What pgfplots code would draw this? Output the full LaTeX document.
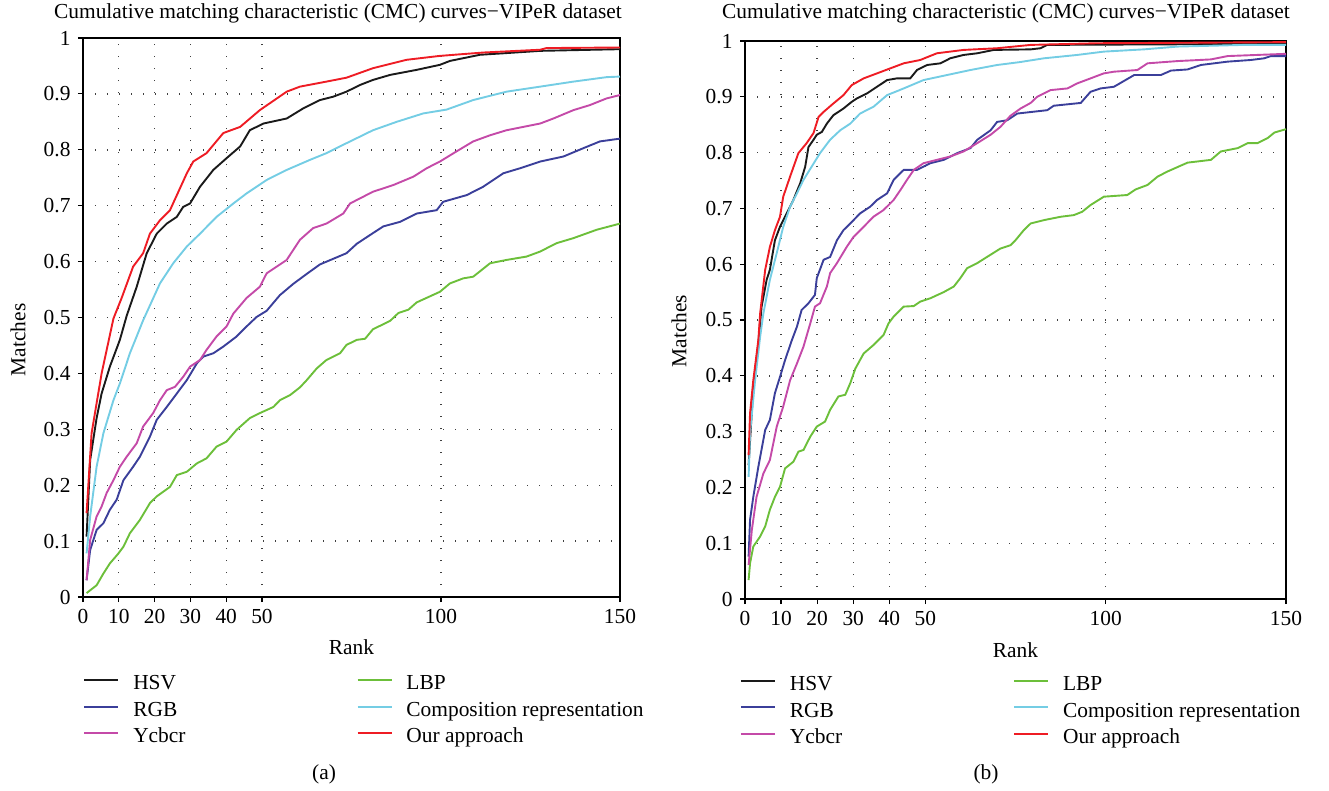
\documentclass[border=0pt]{standalone}
\usepackage{fontspec}
\setmainfont{Liberation Serif}
\usepackage{pgfplots}
\pgfplotsset{compat=1.18}

\definecolor{chsv}{HTML}{1A1A1A}
\definecolor{crgb}{HTML}{3B3F9A}
\definecolor{cycc}{HTML}{C44AA8}
\definecolor{clbp}{HTML}{6CBF3A}
\definecolor{ccmp}{HTML}{74CDE4}
\definecolor{cour}{HTML}{EE1C24}

\pgfplotsset{
  cmc/.style={
    scale only axis,
    xmin=0, xmax=150, ymin=0, ymax=1,
    xtick={0,10,20,30,40,50,100,150},
    ytick={0,0.1,0.2,0.3,0.4,0.5,0.6,0.7,0.8,0.9,1},
    xtick pos=left, ytick pos=left,
    tick align=outside, major tick length=2.5pt,
    tick style={black, line width=0.6pt},
    grid=major,
    major grid style={black!75, line width=0.7pt, dash pattern=on 0.7pt off 5.3pt},
    axis line style={line width=0.8pt},
    /pgf/number format/assume math mode=true,
    xlabel=Rank, ylabel=Matches,
    legend columns=2,
    legend cell align=left,
    legend style={draw=none, fill=none, inner sep=0pt,
      nodes={inner xsep=0pt, inner ysep=1pt, text height=7pt, text depth=2.2pt},
      row sep=2pt,
      /tikz/every odd column/.append style={column sep=7pt},
      /tikz/every even column/.append style={column sep=85.5pt}},
    legend image code/.code={\draw[#1] (0pt,2.5pt) -- (17pt,2.5pt);},
    every axis plot/.append style={line width=0.95pt},
  }
}

\begin{document}
\fontsize{10.7pt}{13pt}\selectfont
\begin{tikzpicture}
\useasboundingbox (0,0) rectangle (664.5pt,-395.5pt);

% ---------- (a) ----------
\begin{axis}[cmc,
  width=268.5pt, height=279.5pt,
  at={(41.5pt,-298.5pt)}, anchor=south west,
  xlabel style={at={(axis description cs:0.5,-0.09)}, anchor=center},
  ylabel style={at={(axis description cs:-0.121,0.46)}, anchor=center},
  legend style={at={(axis description cs:0,-0.137)}, anchor=north west},
]
\addplot[chsv] coordinates {
(1,0.108) (2,0.245) (3.8,0.32) (5.2,0.364) (7.5,0.412) (10.3,0.46) (12.2,0.503)
(15,0.555) (17.8,0.615) (20.6,0.65) (23.4,0.668) (26.2,0.68) (28,0.698) (29.9,0.704)
(32.7,0.734) (36.4,0.764) (40.1,0.785) (43.9,0.806) (46.6,0.835) (50.4,0.847)
(56.9,0.856) (61.5,0.874) (66.2,0.889) (69.9,0.895) (73.6,0.904) (77.4,0.916)
(81,0.925) (85.8,0.934) (93.2,0.943) (99.7,0.952) (102.5,0.959) (110.9,0.97)
(118.3,0.973) (127.7,0.977) (150,0.98)};
\addlegendentry{HSV}
\addplot[clbp] coordinates {
(1,0.007) (3.8,0.021) (5.7,0.042) (7.5,0.06) (9.9,0.078) (11.3,0.09) (13.1,0.114)
(15.9,0.138) (18.7,0.168) (20.6,0.18) (24.3,0.197) (26.2,0.218) (29,0.224)
(31.8,0.239) (34.5,0.248) (37.3,0.269) (40.1,0.278) (42.9,0.299) (46.6,0.32)
(49.4,0.329) (53.2,0.34) (55,0.352) (57.8,0.361) (60.6,0.375) (62.5,0.388)
(65.3,0.409) (68,0.424) (71.8,0.436) (73.6,0.451) (76.5,0.46) (78.8,0.462)
(81,0.479) (85.8,0.494) (88.1,0.508) (90.9,0.514) (93.2,0.527) (99.7,0.546)
(102.5,0.561) (106.2,0.57) (109,0.573) (113.7,0.597) (118.3,0.603) (123.9,0.609)
(127.7,0.618) (132.3,0.633) (137,0.642) (143.5,0.657) (150,0.668)};
\addlegendentry{LBP}
\addplot[crgb] coordinates {
(1,0.03) (2,0.084) (3.8,0.12) (5.7,0.132) (7.5,0.156) (9.4,0.174) (11.3,0.209)
(14,0.233) (15.9,0.251) (18.7,0.287) (20.6,0.317) (23.4,0.34) (26.2,0.364)
(29,0.388) (31.8,0.418) (33.6,0.43) (36.4,0.436) (39.2,0.448) (42.9,0.466)
(45.7,0.484) (48.5,0.501) (51.3,0.512) (55,0.54) (58.7,0.56) (62.5,0.578)
(66.2,0.595) (69.9,0.605) (73.6,0.615) (76.5,0.632) (81,0.651) (83.9,0.663)
(88.5,0.671) (93.2,0.686) (98.8,0.692) (100.6,0.707) (107.2,0.719) (111.8,0.734)
(117.4,0.758) (122.1,0.767) (127.7,0.779) (134.2,0.788) (139.8,0.803)
(144.4,0.815) (150,0.82)};
\addlegendentry{RGB}
\addplot[ccmp] coordinates {
(1,0.078) (2,0.144) (3.8,0.233) (5.7,0.293) (8.5,0.352) (10.3,0.382) (13.1,0.436)
(16.8,0.495) (21.5,0.561) (25.2,0.597) (29,0.627) (32.7,0.65) (37.3,0.68)
(42,0.704) (45.7,0.722) (51.3,0.746) (56.9,0.764) (63.4,0.782) (68,0.794)
(72.7,0.809) (81,0.835) (87.6,0.85) (95,0.865) (101.6,0.872) (109,0.889)
(118.3,0.904) (127.7,0.913) (137,0.922) (146.3,0.93) (150,0.931)};
\addlegendentry{Composition representation}
\addplot[cycc] coordinates {
(1,0.03) (2,0.102) (3.8,0.144) (5.2,0.162) (6.6,0.186) (8.5,0.209) (10.3,0.233)
(12.2,0.251) (15,0.275) (16.8,0.305) (19.6,0.329) (21.5,0.352) (23.4,0.37)
(25.7,0.376) (28,0.394) (29.9,0.412) (32.7,0.424) (34.5,0.442) (37.3,0.466)
(40.1,0.484) (42,0.507) (45.7,0.535) (49.4,0.555) (51.3,0.579) (56.9,0.603)
(60.6,0.639) (64.3,0.66) (68,0.668) (72.7,0.686) (74.6,0.704) (81,0.725)
(86.7,0.737) (92.3,0.752) (96,0.767) (99.7,0.779) (104.3,0.797) (109,0.815)
(113.7,0.826) (118.3,0.835) (123,0.841) (127.7,0.847) (131.4,0.856) (137,0.871)
(141.6,0.88) (146.3,0.892) (150,0.898)};
\addlegendentry{Ycbcr}
\addplot[cour] coordinates {
(1,0.15) (2.4,0.293) (5.2,0.40) (8.5,0.498) (10.8,0.535) (14,0.591) (16.8,0.615)
(18.7,0.65) (21.5,0.674) (24.3,0.692) (29,0.758) (30.8,0.779) (34.5,0.794)
(39.2,0.83) (43.9,0.841) (49.4,0.871) (56.9,0.904) (60.6,0.913) (68,0.922)
(73.6,0.929) (81,0.946) (90.4,0.961) (99.7,0.968) (111.8,0.974) (127.7,0.979)
(129.5,0.982) (150,0.983)};
\addlegendentry{Our approach}
\end{axis}

% ---------- (b) ----------
\begin{axis}[cmc,
  width=270.5pt, height=279pt,
  at={(372.5pt,-299.5pt)}, anchor=south west,
  xlabel style={at={(axis description cs:0.5,-0.091)}, anchor=center},
  ylabel style={at={(axis description cs:-0.122,0.48)}, anchor=center},
  legend style={at={(axis description cs:-0.01,-0.135)}, anchor=north west},
]
\addplot[chsv] coordinates {
(1,0.24) (2.3,0.38) (3.7,0.458) (4.6,0.524) (6,0.572) (6.9,0.59) (8.3,0.643)
(9.7,0.667) (11.1,0.685) (13.4,0.715) (15.3,0.745) (16.7,0.775) (17.6,0.81)
(19,0.823) (19.9,0.832) (21.3,0.837) (22.7,0.852) (24.5,0.867) (27.3,0.879)
(29.6,0.891) (31,0.897) (33.8,0.906) (36.6,0.918) (39.4,0.93) (42.1,0.933)
(45.8,0.933) (47.7,0.948) (50.5,0.957) (54.2,0.96) (56.9,0.969) (60.6,0.975)
(64.4,0.978) (69,0.984) (79.2,0.985) (81.9,0.987) (83.8,0.993) (150,0.995)};
\addlegendentry{HSV}
\addplot[clbp] coordinates {
(1,0.034) (1.4,0.064) (2.3,0.094) (4.2,0.112) (5.6,0.13) (6.9,0.16) (8.3,0.183)
(9.7,0.201) (11.1,0.234) (13.4,0.246) (14.8,0.264) (16.2,0.267) (18.1,0.291)
(19.9,0.309) (22.2,0.318) (23.6,0.339) (25.9,0.363) (27.8,0.366) (29.2,0.387)
(30.6,0.413) (32.9,0.44) (35.6,0.455) (38.4,0.473) (39.8,0.494) (41.2,0.506)
(42.1,0.512) (44,0.524) (46.8,0.525) (48.6,0.533) (51.4,0.539) (55.1,0.55)
(57.9,0.56) (59.7,0.575) (61.6,0.593) (64.4,0.602) (67.1,0.613) (70.8,0.628)
(73.6,0.634) (75,0.643) (77.3,0.661) (79.2,0.673) (82.9,0.679) (87.5,0.685)
(91.2,0.688) (93.5,0.694) (95.8,0.706) (99.5,0.721) (106,0.724) (108.3,0.734)
(111.6,0.742) (114.4,0.757) (117.1,0.766) (119.9,0.774) (122.7,0.782)
(129.2,0.787) (131.9,0.802) (136.6,0.808) (139.4,0.817) (142.1,0.817)
(144.9,0.826) (146.8,0.836) (150,0.842)};
\addlegendentry{LBP}
\addplot[crgb] coordinates {
(1,0.076) (1.4,0.142) (2.3,0.183) (3.7,0.237) (5.6,0.303) (6.9,0.321) (8.3,0.369)
(9.7,0.398) (11.1,0.428) (13,0.464) (14.4,0.488) (15.7,0.518) (17.6,0.53)
(19.4,0.545) (19.9,0.575) (21.8,0.608) (23.6,0.613) (25.5,0.643) (27.3,0.661)
(29.2,0.673) (31.9,0.691) (34.7,0.703) (36.6,0.715) (39.4,0.727) (41.2,0.751)
(44,0.769) (47.7,0.769) (51.4,0.781) (55.1,0.787) (58.8,0.799) (62.5,0.808)
(64.4,0.823) (68.1,0.84) (69.9,0.855) (72.7,0.858) (75.5,0.87) (83.8,0.876)
(85.6,0.884) (93.1,0.889) (95.8,0.909) (98.6,0.915) (102.3,0.918) (107.9,0.939)
(115.3,0.939) (118.1,0.947) (122.7,0.949) (126.4,0.957) (133.8,0.963)
(140.3,0.966) (144,0.969) (145.8,0.973) (150,0.973)};
\addlegendentry{RGB}
\addplot[ccmp] coordinates {
(1,0.219) (1.4,0.297) (2.8,0.392) (4.2,0.47) (5.1,0.512) (6.9,0.572) (8.8,0.62)
(10.6,0.667) (12.5,0.703) (14.4,0.727) (16.2,0.751) (18.5,0.775) (20.8,0.799)
(23.6,0.823) (26.4,0.84) (29.2,0.852) (31.9,0.87) (35.6,0.882) (39.4,0.903)
(44,0.915) (49.5,0.93) (56,0.939) (62.5,0.948) (69.9,0.957) (76,0.962)
(82.9,0.969) (92.1,0.975) (99.5,0.981) (110.6,0.985) (119.9,0.99) (138.4,0.993)
(150,0.993)};
\addlegendentry{Composition representation}
\addplot[cycc] coordinates {
(1,0.061) (1.9,0.124) (3.2,0.183) (5.1,0.225) (6.9,0.249) (8.8,0.309) (10.6,0.345)
(12.5,0.392) (14.4,0.422) (16.2,0.452) (18.1,0.494) (19.4,0.524) (20.8,0.53)
(22.7,0.56) (23.6,0.584) (25.5,0.602) (28.2,0.631) (30.1,0.649) (32.9,0.667)
(35.6,0.685) (38.4,0.697) (41.2,0.715) (43.1,0.733) (44.9,0.751) (46.8,0.769)
(49.5,0.781) (53.2,0.787) (56.9,0.793) (60.6,0.802) (64.4,0.817) (68.1,0.832)
(70.8,0.846) (73.6,0.866) (76.4,0.879) (79.2,0.889) (81,0.9) (84.7,0.912)
(89.4,0.915) (92.1,0.924) (95.8,0.933) (99.5,0.942) (102.3,0.945) (108.8,0.948)
(111.6,0.96) (119.9,0.964) (129.2,0.967) (133.8,0.973) (150,0.977)};
\addlegendentry{Ycbcr}
\addplot[cour] coordinates {
(1,0.258) (1.4,0.333) (2.3,0.392) (3.7,0.464) (4.2,0.512) (5.6,0.59) (6.9,0.631)
(8.3,0.661) (9.7,0.685) (10.6,0.721) (12.5,0.757) (14.8,0.799) (17.1,0.817)
(19,0.835) (20.4,0.864) (21.8,0.873) (24.5,0.888) (27.3,0.903) (29.6,0.921)
(32.9,0.933) (36.6,0.942) (40.3,0.951) (44,0.96) (48.6,0.966) (53.2,0.978)
(60.6,0.984) (69.9,0.987) (79.2,0.993) (97.7,0.996) (125.5,0.997) (150,0.998)};
\addlegendentry{Our approach}
\end{axis}

% titles and panel letters
\node[anchor=base] at (169pt,-9.5pt) {Cumulative matching characteristic (CMC) curves\textminus VIPeR dataset};
\node[anchor=base] at (503pt,-9.5pt) {Cumulative matching characteristic (CMC) curves\textminus VIPeR dataset};
\node at (162pt,-387pt) {(a)};
\node at (493pt,-387pt) {(b)};
\end{tikzpicture}
\end{document}
